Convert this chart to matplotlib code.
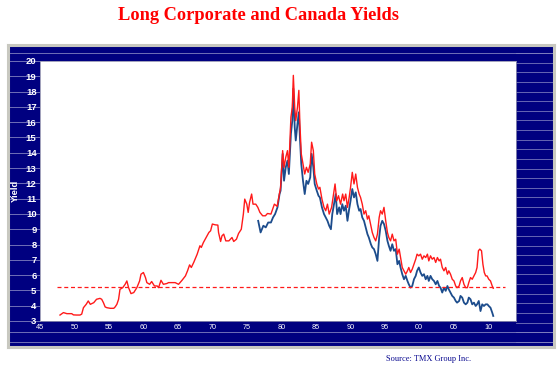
import numpy as np
import matplotlib
matplotlib.use("Agg")
import matplotlib.pyplot as plt

# ---------------- data ----------------
corp_years = [1947.9, 1948.4, 1948.9, 1949.6, 1949.85, 1950.3, 1950.8, 1951.05, 1951.3, 1951.7,
              1952.0, 1952.3, 1952.8, 1953.2, 1953.7, 1953.95, 1954.2, 1954.45, 1954.7, 1955.2,
              1955.7, 1955.9, 1956.15, 1956.4, 1956.6, 1957.0, 1957.35, 1957.6, 1957.85, 1958.2,
              1958.6, 1959.05, 1959.45, 1959.65, 1960.0, 1960.3, 1960.5, 1960.9, 1961.2, 1961.6,
              1962.0, 1962.2, 1962.55, 1962.9, 1963.4, 1963.65, 1964.1, 1964.6, 1965.1, 1965.6,
              1966.1, 1966.4, 1966.7, 1966.95, 1967.3, 1967.8, 1968.2, 1968.4, 1968.7, 1969.1,
              1969.5, 1969.75, 1970.0, 1970.4, 1970.8, 1970.9, 1971.2, 1971.4, 1971.65, 1971.95,
              1972.4, 1972.85, 1973.1, 1973.5, 1973.8, 1974.2, 1974.5, 1974.7, 1975.0, 1975.2,
              1975.4, 1975.7, 1975.9, 1976.3, 1976.6, 1976.9, 1977.3, 1977.7, 1978.0, 1978.5,
              1979.0, 1979.4, 1979.9, 1980.2, 1980.4, 1980.65, 1980.9, 1981.1, 1981.4, 1981.6,
              1981.75, 1981.95, 1982.1, 1982.35, 1982.55, 1982.7, 1982.9, 1983.15, 1983.4, 1983.65,
              1983.9, 1984.2, 1984.4, 1984.65, 1984.85, 1985.15, 1985.4, 1985.6, 1985.9, 1986.2,
              1986.45, 1986.7, 1986.95, 1987.3, 1987.55, 1987.8, 1988.05, 1988.3, 1988.6, 1988.9,
              1989.1, 1989.35, 1989.6, 1989.85, 1990.05, 1990.3, 1990.55, 1990.8, 1991.05, 1991.3,
              1991.5, 1991.75, 1992.0, 1992.25, 1992.5, 1992.7, 1993.0, 1993.2, 1993.45, 1993.7,
              1993.95, 1994.2, 1994.4, 1994.65, 1994.9, 1995.15, 1995.4, 1995.6, 1995.85, 1996.1,
              1996.35, 1996.6, 1996.85, 1997.1, 1997.3, 1997.55, 1997.8, 1998.05, 1998.3, 1998.5,
              1998.75, 1999.0, 1999.25, 1999.5, 1999.7, 1999.95, 2000.2, 2000.45, 2000.7, 2000.95,
              2001.2, 2001.4, 2001.65, 2001.9, 2002.15, 2002.4, 2002.65, 2002.9, 2003.1, 2003.35,
              2003.6, 2003.85, 2004.1, 2004.3, 2004.55, 2004.8, 2005.05, 2005.3, 2005.5, 2005.8,
              2006.0, 2006.25, 2006.5, 2006.75, 2007.0, 2007.2, 2007.45, 2007.7, 2007.95, 2008.2,
              2008.4, 2008.6, 2008.8, 2009.05, 2009.25, 2009.45, 2009.65, 2009.85, 2010.1, 2010.35,
              2010.6, 2010.75]
corp_yield = [3.39, 3.55, 3.48, 3.48, 3.40, 3.39, 3.39, 3.45, 3.87, 4.09,
              4.31, 4.09, 4.20, 4.42, 4.48, 4.42, 4.20, 3.92, 3.87, 3.83,
              3.83, 3.92, 4.09, 4.42, 5.07, 5.18, 5.40, 5.62, 5.18, 4.79,
              4.86, 5.18, 5.62, 6.06, 6.17, 5.84, 5.51, 5.40, 5.58, 5.29,
              5.29, 5.18, 5.66, 5.40, 5.45, 5.51, 5.51, 5.51, 5.40, 5.66,
              5.95, 6.28, 6.67, 6.50, 6.83, 7.37, 7.92, 7.81, 8.13, 8.46,
              8.79, 8.90, 9.34, 9.29, 9.27, 8.79, 8.20, 8.57, 8.68, 8.24,
              8.24, 8.46, 8.20, 8.35, 8.72, 9.00, 9.99, 10.97, 10.64, 10.10,
              10.75, 11.30, 10.64, 10.64, 10.43, 10.10, 9.88, 9.88, 10.03, 9.99,
              10.64, 10.50, 11.74, 14.14, 13.05, 13.70, 14.14, 13.05, 16.33, 16.98,
              19.06, 16.98, 16.10, 16.98, 18.08, 15.89, 13.93, 13.27, 12.61, 13.05,
              12.72, 13.27, 14.69, 14.14, 12.61, 11.96, 11.63, 11.74, 10.97, 10.43,
              10.21, 10.64, 9.99, 10.43, 11.19, 11.96, 10.86, 11.19, 10.64, 11.30,
              10.86, 11.30, 10.43, 11.08, 11.74, 12.72, 11.96, 12.61, 11.74, 11.30,
              11.08, 10.64, 9.99, 10.21, 9.66, 9.88, 9.23, 8.79, 8.46, 8.24,
              8.68, 9.77, 10.21, 9.99, 10.43, 9.55, 8.79, 8.46, 8.24, 8.68,
              8.24, 8.35, 7.37, 7.70, 7.15, 6.50, 6.28, 6.06, 6.28, 6.50,
              6.17, 6.39, 6.71, 7.04, 7.37, 7.26, 7.37, 7.04, 7.26, 7.15,
              7.37, 6.93, 7.26, 7.04, 7.15, 6.83, 7.15, 6.93, 7.04, 6.50,
              6.28, 6.50, 6.06, 6.28, 6.06, 5.73, 5.62, 5.29, 5.18, 5.29,
              5.62, 5.84, 5.40, 5.18, 5.18, 5.51, 5.84, 5.73, 5.95, 6.17,
              6.50, 7.59, 7.70, 7.59, 6.71, 6.17, 5.95, 5.95, 5.73, 5.62,
              5.29, 5.14]

canada_years = [1976.65, 1977.0, 1977.4, 1977.75, 1978.1, 1978.5, 1978.8, 1979.1, 1979.45, 1979.75,
                1979.9, 1980.2, 1980.4, 1980.65, 1980.9, 1981.1, 1981.4, 1981.6, 1981.75, 1981.95,
                1982.1, 1982.35, 1982.55, 1982.7, 1982.9, 1983.15, 1983.4, 1983.65, 1983.9, 1984.2,
                1984.4, 1984.65, 1984.85, 1985.15, 1985.4, 1985.6, 1985.9, 1986.2, 1986.45, 1986.7,
                1986.95, 1987.2, 1987.4, 1987.65, 1987.9, 1988.1, 1988.4, 1988.6, 1988.85, 1989.1,
                1989.35, 1989.6, 1989.85, 1990.05, 1990.3, 1990.55, 1990.8, 1991.05, 1991.3, 1991.5,
                1991.75, 1992.0, 1992.25, 1992.5, 1992.7, 1993.0, 1993.2, 1993.45, 1993.7, 1993.95,
                1994.2, 1994.4, 1994.65, 1994.9, 1995.15, 1995.4, 1995.6, 1995.85, 1996.1, 1996.35,
                1996.6, 1996.85, 1997.1, 1997.3, 1997.55, 1997.8, 1998.05, 1998.3, 1998.5, 1998.75,
                1999.0, 1999.25, 1999.5, 1999.7, 1999.95, 2000.2, 2000.45, 2000.7, 2000.95, 2001.2,
                2001.4, 2001.65, 2001.9, 2002.15, 2002.4, 2002.65, 2002.9, 2003.1, 2003.35, 2003.6,
                2003.85, 2004.1, 2004.3, 2004.55, 2004.8, 2005.05, 2005.3, 2005.5, 2005.8, 2006.0,
                2006.25, 2006.5, 2006.75, 2007.0, 2007.2, 2007.45, 2007.7, 2007.95, 2008.2, 2008.4,
                2008.65, 2008.9, 2009.15, 2009.4, 2009.65, 2009.9, 2010.1, 2010.35, 2010.6, 2010.75]
canada_yield = [9.55, 8.79, 9.23, 9.12, 9.44, 9.44, 9.77, 9.99, 10.43, 11.30,
                11.52, 13.93, 12.17, 13.05, 13.49, 12.61, 15.24, 16.10, 18.19, 15.67,
                14.80, 15.89, 16.65, 15.02, 13.27, 12.17, 11.30, 12.17, 11.96, 12.39,
                13.93, 13.05, 11.96, 11.52, 11.19, 11.08, 10.43, 9.99, 9.77, 9.55,
                9.23, 9.00, 9.99, 10.64, 11.30, 9.99, 10.43, 9.99, 10.64, 10.21,
                10.54, 9.55, 10.32, 10.86, 11.63, 11.08, 11.41, 10.64, 10.21, 10.32,
                9.77, 9.55, 9.12, 8.68, 8.46, 8.02, 7.81, 7.70, 7.37, 6.93,
                8.46, 9.23, 9.55, 9.34, 8.90, 8.24, 7.92, 7.59, 8.02, 7.59,
                7.70, 6.71, 6.93, 6.50, 6.06, 5.73, 5.95, 5.62, 5.40, 5.18,
                5.29, 5.73, 5.95, 6.28, 6.50, 6.17, 5.95, 6.06, 5.73, 5.95,
                5.62, 5.95, 5.73, 5.62, 5.40, 5.62, 5.29, 5.18, 4.86, 5.18,
                4.97, 5.29, 5.07, 4.86, 4.64, 4.53, 4.31, 4.20, 4.31, 4.64,
                4.53, 4.20, 4.09, 4.20, 4.53, 4.42, 4.09, 4.20, 3.98, 4.09,
                4.31, 3.65, 4.09, 3.98, 4.09, 4.09, 3.98, 3.87, 3.55, 3.33]

ref_level = 5.25
ref_span = [1947.5, 2012.5]

x_ticks = [1945, 1950, 1955, 1960, 1965, 1970, 1975, 1980, 1985, 1990, 1995, 2000, 2005, 2010]
x_labels = ["45", "50", "55", "60", "65", "70", "75", "80", "85", "90", "95", "00", "05", "10"]
y_ticks = list(range(3, 21))

title = "Long Corporate and Canada Yields"
source = "Source: TMX Group Inc."

# ---------------- figure ----------------
W, H = 560, 372
fig = plt.figure(figsize=(W / 100, H / 100), dpi=100)
fig.patch.set_facecolor("white")

NAVY = "#000080"
GRID = "#8080C0"

# navy panel (pixel coordinates)
px_l, px_r, px_t, px_b = 8, 554, 45, 347
bg = fig.add_axes([px_l / W, 1 - px_b / H, (px_r - px_l) / W, (px_b - px_t) / H])
bg.set_facecolor(NAVY)
bg.set_xlim(px_l, px_r)
bg.set_ylim(px_b, px_t)
bg.set_xticks([])
bg.set_yticks([])
for s in bg.spines.values():
    s.set_edgecolor("#C8C8C0")
    s.set_linewidth(2.2)

# main plot region (pixel)
ax_l, ax_r, ax_t, ax_b = 40, 516, 61, 321
ymin, ymax = 3, 20
ppu = (ax_b - ax_t) / (ymax - ymin)

# left side lines at integer yield levels
for v in y_ticks:
    yp = ax_t + (ymax - v) * ppu
    bg.plot([px_l, ax_l], [yp, yp], color=GRID, lw=0.6)
# right side lines
for yp in np.arange(53, 345, 9.63):
    bg.plot([ax_r, px_r], [yp, yp], color=GRID, lw=0.55)
# full-width lines at top and bottom
for yp in [53, 332, 342]:
    bg.plot([px_l, px_r], [yp, yp], color=GRID, lw=0.6)

ax = fig.add_axes([ax_l / W, 1 - ax_b / H, (ax_r - ax_l) / W, (ax_b - ax_t) / H])
ax.set_facecolor("white")
ax.set_xlim(1945, 2014.05)
ax.set_ylim(ymin, ymax)
for s in ax.spines.values():
    s.set_edgecolor("#9090B0")
    s.set_linewidth(0.6)

ax.plot(corp_years, corp_yield, color="#FF1A1A", lw=1.0, zorder=3)
ax.plot(canada_years, canada_yield, color="#1C4C8C", lw=1.3, zorder=2)
ax.plot(ref_span, [ref_level, ref_level], color="#FF1A1A", lw=0.9,
        linestyle=(0, (3.2, 2.2)), zorder=4)

ax.set_xticks(x_ticks)
ax.set_xticklabels(x_labels, fontsize=5.2, color="white", family="Liberation Sans")
ax.set_yticks(y_ticks)
ax.set_yticklabels([str(v) for v in y_ticks], fontsize=6.8, color="white",
                   family="Liberation Sans", fontweight="bold")
ax.tick_params(axis="x", length=0, pad=2.5)
ax.tick_params(axis="y", length=0, pad=2.5)
ax.set_ylabel("Yield", color="white", fontsize=6.8, fontweight="bold",
              family="Liberation Sans", labelpad=4)

fig.text(258 / W, 1 - 16 / H, title, color="#FF0000", fontsize=13.2,
         fontweight="bold", family="Liberation Serif", ha="center", va="center")
fig.text(471 / W, 1 - 359 / H, source, color="#0A0A90", fontsize=6,
         family="Liberation Serif", ha="right", va="center")

fig.savefig("out.png", dpi=100, facecolor="white")
